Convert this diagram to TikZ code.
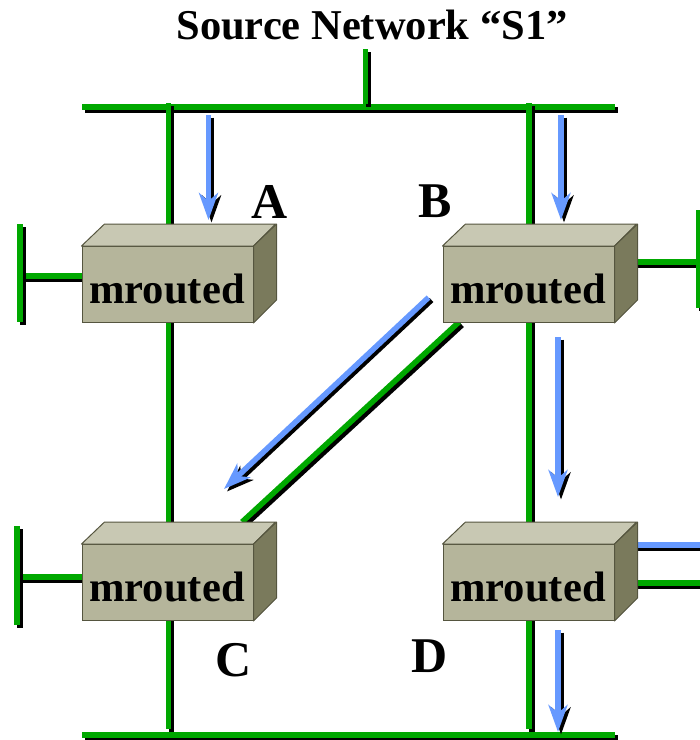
\documentclass[tikz,border=0pt]{standalone}
\usepackage{fontspec}
\setmainfont{Liberation Serif}
\usetikzlibrary{arrows.meta,backgrounds}
\definecolor{netgreen}{HTML}{00A800}
\definecolor{flowblue}{HTML}{6699FF}
\definecolor{boxfront}{HTML}{B5B59B}
\definecolor{boxtop}{HTML}{C8C8B3}
\definecolor{boxside}{HTML}{7A7A5C}
\definecolor{boxedge}{HTML}{55553F}
\tikzset{
  routerbox/.style={draw=boxedge,line width=1pt,fill=boxfront,minimum width=171pt,minimum height=76pt,inner sep=0pt},
  routertext/.style={inner sep=0pt,font=\fontsize{42.6}{42.6}\selectfont\bfseries},
  routertop/.style={draw=boxedge,line width=1pt,fill=boxtop,line join=round},
  routerside/.style={draw=boxedge,line width=1pt,fill=boxside,line join=round},
  letterlabel/.style={font=\fontsize{50}{50}\selectfont\bfseries,inner sep=0pt},
  titlelabel/.style={font=\fontsize{42.5}{42.5}\selectfont\bfseries,inner sep=0pt},
  netshadow/.style={draw=black,line width=5.5pt,transform canvas={xshift=3pt,yshift=-3pt}},
  netline/.style={draw=netgreen,line width=5.5pt},
  flowshadow/.style={draw=black,line width=5.5pt,transform canvas={xshift=3pt,yshift=-2.5pt},-{Stealth[length=27pt,width=19pt,inset=8pt]}},
  flowline/.style={draw=flowblue,line width=5.5pt,-{Stealth[length=27pt,width=19pt,inset=8pt]}},
}
\newcommand{\netpath}[1]{\path[netshadow] #1; \path[netline] #1;}
\newcommand{\flowpath}[1]{\path[flowshadow] #1; \path[flowline] #1;}
\newcommand{\routerthreed}[1]{%
  \path[routertop] (#1.north west) -- ++(23,-22) -- ++(171,0) -- (#1.north east) -- cycle;
  \path[routerside] (#1.north east) -- ++(23,-22) -- ++(0,76) -- (#1.south east) -- cycle;
}
\begin{document}
\begin{tikzpicture}[x=1pt,y=-1pt]
\useasboundingbox (0,0) rectangle (700,740);
% routers
\node[routerbox] (A) at (167.5,284.5) {};
\node[routerbox] (B) at (528.5,284.5) {};
\node[routerbox] (C) at (167.5,582.5) {};
\node[routerbox] (D) at (528.5,582.5) {};
\routerthreed{A}\routerthreed{B}\routerthreed{C}\routerthreed{D}
\node[routertext] (lblA) at (167,289) {mrouted};
\node[routertext] (lblB) at (528,289) {mrouted};
\node[routertext] (lblC) at (167,587) {mrouted};
\node[routertext] (lblD) at (528,587) {mrouted};
% labels
\node[titlelabel] (title) at (372,25) {Source Network “S1”};
\node[letterlabel] (letA) at (270,202) {A};
\node[letterlabel] (letB) at (435,201) {B};
\node[letterlabel] (letC) at (234,660) {C};
\node[letterlabel] (letD) at (430,656) {D};
% free ends
\coordinate (busTL) at (82,107);
\coordinate (busTR) at (615,107);
\coordinate (busBL) at (82,735);
\coordinate (busBR) at (615,735);
\coordinate (stubTop) at (365.5,49);
\coordinate (stubBot) at (365.5,104);
\coordinate (leftTop) at (168.5,103);
\coordinate (leftBot) at (168.5,729);
\coordinate (rightTop) at (529,103);
\coordinate (rightBot) at (529,729);
\coordinate (tA1) at (20,224);
\coordinate (tA2) at (20,322);
\coordinate (tAj) at (20,276);
\coordinate (tC1) at (17,526);
\coordinate (tC2) at (17,625);
\coordinate (tCj) at (17,577);
\coordinate (tB1) at (699,210);
\coordinate (tB2) at (699,308);
\coordinate (tBj) at (699,262);
\coordinate (dBlueEnd) at (702,545);
\coordinate (dGreenEnd) at (702,583);
\coordinate (diagC) at (242,522);
\coordinate (diagB) at (459,322);
\coordinate (faS) at (208.5,115);
\coordinate (faE) at (208.5,220);
\coordinate (fbS) at (561,115);
\coordinate (fbE) at (561,220);
\coordinate (fdS) at (558,337);
\coordinate (fdE) at (558,497);
\coordinate (fnS) at (558,630);
\coordinate (fnE) at (558,732);
\coordinate (fcS) at (428.5,297.5);
\coordinate (fcE) at (224,489);
\begin{scope}[on background layer]
  % buses
  \netpath{(busTL) -- (busTR)}
  \netpath{(busBL) -- (busBR)}
  \netpath{(stubTop) -- (stubBot)}
  \netpath{(leftTop) -- (leftBot)}
  \netpath{(rightTop) -- (rightBot)}
  % side nets
  \netpath{(tAj) -- (A.west |- tAj)}
  \netpath{(tA1) -- (tA2)}
  \netpath{(tCj) -- (C.west |- tCj)}
  \netpath{(tC1) -- (tC2)}
  \netpath{(B.east |- tBj) -- (tBj)}
  \netpath{(tB1) -- (tB2)}
  \netpath{(D.east |- dGreenEnd) -- (dGreenEnd)}
  \path[netshadow] (D.east |- dBlueEnd) -- (dBlueEnd);
  \path[draw=flowblue,line width=5.5pt] (D.east |- dBlueEnd) -- (dBlueEnd);
  % diagonal
  \netpath{(diagB) -- (diagC)}
\end{scope}
% flow arrows
\flowpath{(faS) -- (faE)}
\flowpath{(fbS) -- (fbE)}
\flowpath{(fdS) -- (fdE)}
\flowpath{(fnS) -- (fnE)}
\flowpath{(fcS) -- (fcE)}
\end{tikzpicture}
\end{document}
